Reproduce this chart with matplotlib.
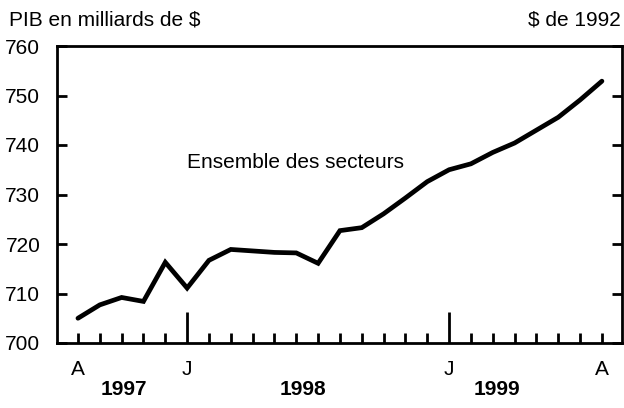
import numpy as np
import matplotlib
matplotlib.use("Agg")
import matplotlib.pyplot as plt

plt.rcParams['font.family'] = ['Liberation Sans', 'DejaVu Sans']

# PIB mensuel, aout 1997 a aout 1999 (milliards de $ de 1992)
months = np.arange(25)
gdp = [705.0, 707.7, 709.2, 708.4, 716.3, 711.1, 716.7, 718.9, 718.6, 718.3,
       718.2, 716.1, 722.7, 723.3, 726.1, 729.3, 732.6, 735.0, 736.2, 738.5,
       740.4, 743.0, 745.6, 749.1, 752.9]
month_labels = {0: "A", 5: "J", 17: "J", 24: "A"}
years = ["1997", "1998", "1999"]
year_pos = [2.1, 10.3, 19.2]

fig = plt.figure(figsize=(6.24, 4.08), dpi=100)
ax = fig.add_axes([57/624, 1 - 343/408, (622-57)/624, (343-46)/408])

ax.plot(months, gdp, color="black", lw=3.4, solid_capstyle="round", solid_joinstyle="miter")

ax.set_xlim(-0.96, 24.92)
ax.set_ylim(700, 760)

for s in ax.spines.values():
    s.set_linewidth(2.0)

# y ticks: labels left, marks inside on both sides
ax.set_yticks(np.arange(700, 761, 10))
ax.tick_params(axis="y", direction="in", length=7, width=2.0, left=True, right=True,
               labelsize=15, pad=12)
ax.set_yticks([], minor=True)

# x ticks: every month small, January long
ax.set_xticks(months, minor=True)
ax.set_xticks([5, 17])
ax.set_xticklabels([])
ax.tick_params(axis="x", which="minor", direction="in", length=7, width=2.0)
ax.tick_params(axis="x", which="major", direction="in", length=22, width=2.0)

for i, lab in month_labels.items():
    ax.text(i, 696.6, lab, ha="center", va="top", fontsize=15)
for p, y in zip(year_pos, years):
    ax.text(p, 692.6, y, ha="center", va="top", fontsize=15, fontweight="bold")

ax.text(5.0, 736.4, "Ensemble des secteurs", ha="left", va="center", fontsize=15)

fig.text(9/624, 1 - 20/408, "PIB en milliards de $", ha="left", va="center", fontsize=15)
fig.text(621/624, 1 - 20/408, "$ de 1992", ha="right", va="center", fontsize=15)

fig.savefig("out.png", dpi=100)
